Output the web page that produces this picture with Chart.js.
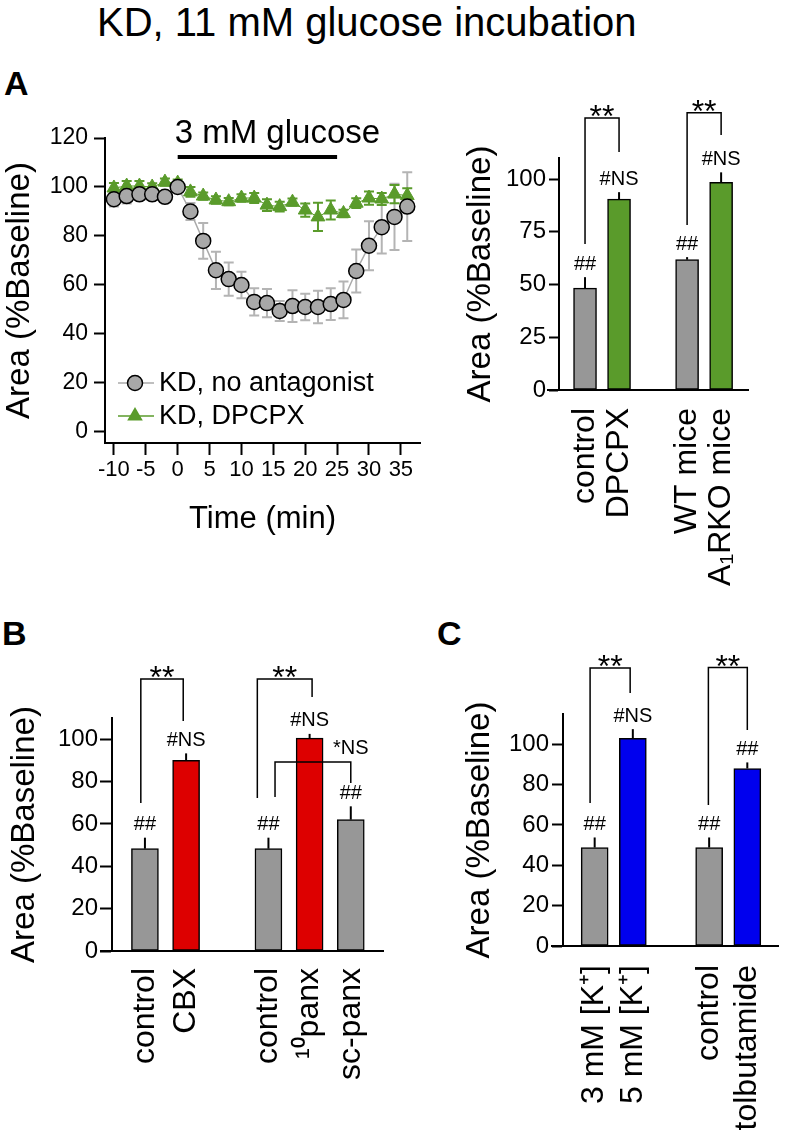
<!DOCTYPE html>
<html>
<head>
<meta charset="utf-8">
<script src="https://cdn.jsdelivr.net/npm/chart.js@4.4.1/dist/chart.umd.min.js"></script>
<style>
  body { margin: 0; width: 797px; height: 1131px; background: #fff; position: relative; overflow: hidden;
         font-family: "Liberation Sans", Arial, Helvetica, sans-serif; color: #000; }
  canvas { position: absolute; }
  .panel { position: absolute; font-weight: bold; font-size: 34px; line-height: 1; }
  #title { position: absolute; left: 97px; top: 2px; font-size: 40px; line-height: 1; white-space: nowrap; }
</style>
</head>
<body>
<div id="title">KD, 11 mM glucose incubation</div>
<div class="panel" style="left:4px;top:66px">A</div>
<div class="panel" style="left:2px;top:616px">B</div>
<div class="panel" style="left:437px;top:616px">C</div>

<canvas id="lineA" width="430" height="450" style="left:0;top:100px"></canvas>
<canvas id="barA" width="367" height="530" style="left:430px;top:85px"></canvas>
<canvas id="barB" width="400" height="481" style="left:0;top:650px"></canvas>
<canvas id="barC" width="397" height="481" style="left:400px;top:650px"></canvas>

<script>
// ---- panel A, time course ----
const timeMin = [-10, -8, -6, -4, -2, 0, 2, 4, 6, 8, 10, 12, 14, 16, 18, 20, 22, 24, 26, 28, 30, 32, 34, 36];
const noAntagonist    = [95, 96.3, 97, 97, 96, 100, 90, 78, 66, 62.4, 60, 53.1, 52.6, 49.4, 51.4, 51, 51, 52.2, 53.9, 65.7, 76, 83.6, 87.8, 92];
const noAntagonistSem = [3, 3, 2, 2, 2, 1, 3.5, 7.3, 7.6, 6.8, 5.4, 5.6, 5.8, 4.1, 6.5, 5.4, 6.6, 6.5, 7.5, 8.8, 10, 10.7, 13.5, 14];
const withDpcpx       = [99.6, 100.4, 100.4, 100, 102, 101.6, 98, 96.3, 94.7, 94, 95.5, 95.5, 92.6, 92, 93.8, 90.6, 87.8, 90.6, 89.2, 93.4, 95.5, 95.1, 97.1, 96.5];
const withDpcpxSem    = [2, 2, 2, 1.5, 1.5, 1.5, 2, 1.5, 1.5, 1.5, 1.5, 2, 2.4, 2, 1.5, 2.7, 5.8, 3.9, 1.5, 2, 2.7, 2.5, 3.7, 3];
const timeTicks = [-10, -5, 0, 5, 10, 15, 20, 25, 30, 35];
const areaTicksLine = [0, 20, 40, 60, 80, 100, 120];
const glucoseWindow = [0, 25];

// ---- panel A, summary bars ----
const labelsA = ['control', 'DPCPX', 'WT mice', 'A\u2081RKO mice'];
const groupsA = [0, 0, 1, 1];
const valuesA = [48.3, 90.5, 61.8, 98.5];
const semA = [5.2, 3.3, 1.2, 4.7];
const marksA = ['##', '#NS', '##', '#NS'];
const areaTicksA = [0, 25, 50, 75, 100];

// ---- panel B ----
const labelsB = ['control', 'CBX', 'control', '\u00B9\u2070panx', 'sc-panx'];
const groupsB = [0, 0, 1, 1, 1];
const valuesB = [48.3, 90, 48.3, 100.5, 62];
const semB = [5.2, 3.3, 5.2, 2, 6.3];
const marksB = ['##', '#NS', '##', '#NS', '##'];
const areaTicksB = [0, 20, 40, 60, 80, 100];

// ---- panel C ----
const labelsC = ['3 mM [K\u207A]', '5 mM [K\u207A]', 'control', 'tolbutamide'];
const groupsC = [0, 0, 1, 1];
const valuesC = [48.8, 103, 48.8, 88];
const semC = [5, 4.5, 5, 3];
const marksC = ['##', '#NS', '##', '##'];
const areaTicksC = [0, 20, 40, 60, 80, 100];

const FONT = '"Liberation Sans", Arial, Helvetica, sans-serif';
Chart.defaults.font.family = FONT;
Chart.defaults.color = '#000';
Chart.defaults.animation = false;

const GREY_BAR = '#979797';
const GREEN = '#5a9b2b';
const RED = '#dd0000';
const BLUE = '#0000ee';

// significance brackets: x in bar slots, y in %Baseline
const bracketsA = [
  { x1: 0, x2: 1, y1: 69.2, top: 129, y2: 112.8, text: '**' },
  { x1: 3, x2: 4, y1: 78.2, top: 131.4, y2: 120.9, text: '**' }
];
const bracketsB = [
  { x1: -0.1, x2: 0.93, y1: 69.9, top: 128.4, y2: 108.6, text: '**' },
  { x1: 2.73, x2: 4.06, y1: 72.2, top: 128.4, y2: 119.9, text: '**' },
  { x1: 3.16, x2: 5, y1: 72.7, top: 89.2, y2: 79.3, text: '*NS', textAt: 5 }
];
const bracketsC = [
  { x1: -0.12, x2: 0.93, y1: 70.9, top: 137.8, y2: 125.4, text: '**' },
  { x1: 2.98, x2: 4, y1: 69.9, top: 138, y2: 107.1, text: '**' }
];

// ---------- time course ----------
const lineErrors = {
  id: 'lineErrors',
  beforeDatasetsDraw(chart) {
    const { ctx, scales: { y } } = chart;
    const sems = [noAntagonistSem, withDpcpxSem];
    const cols = ['#b4b4b4', GREEN];
    chart.data.datasets.forEach((ds, di) => {
      const meta = chart.getDatasetMeta(di);
      ctx.save();
      ctx.strokeStyle = cols[di];
      ctx.lineWidth = 2;
      meta.data.forEach((pt, i) => {
        const v = ds.data[i].y, e = sems[di][i];
        const hi = y.getPixelForValue(v + e), lo = y.getPixelForValue(v - e);
        ctx.beginPath();
        ctx.moveTo(pt.x, hi); ctx.lineTo(pt.x, lo);
        ctx.moveTo(pt.x - 5, hi); ctx.lineTo(pt.x + 5, hi);
        ctx.moveTo(pt.x - 5, lo); ctx.lineTo(pt.x + 5, lo);
        ctx.stroke();
      });
      ctx.restore();
    });
  }
};

const lineExtras = {
  id: 'lineExtras',
  afterDraw(chart) {
    const { ctx, chartArea, scales: { x } } = chart;
    const x0 = x.getPixelForValue(glucoseWindow[0]);
    const x1 = x.getPixelForValue(glucoseWindow[1]);
    ctx.save();
    // glucose bar
    ctx.strokeStyle = '#000';
    ctx.lineWidth = 4;
    ctx.beginPath(); ctx.moveTo(x0, 57); ctx.lineTo(x1, 57); ctx.stroke();
    ctx.fillStyle = '#000';
    ctx.font = '33px ' + FONT;
    ctx.textAlign = 'left';
    ctx.textBaseline = 'alphabetic';
    ctx.fillText('3 mM glucose', x0 - 3, 43);

    // legend
    const lx = chartArea.left + 13, mx = chartArea.left + 30;
    const rows = [chartArea.bottom - 60, chartArea.bottom - 27];
    ctx.font = '27px ' + FONT;
    ctx.textBaseline = 'middle';
    // row 1
    ctx.strokeStyle = '#aaaaaa'; ctx.lineWidth = 1.5;
    ctx.beginPath(); ctx.moveTo(lx, rows[0]); ctx.lineTo(lx + 36, rows[0]); ctx.stroke();
    ctx.beginPath(); ctx.arc(mx, rows[0], 7.5, 0, Math.PI * 2);
    ctx.fillStyle = '#a8a8a8'; ctx.fill();
    ctx.strokeStyle = '#000'; ctx.stroke();
    ctx.fillStyle = '#000';
    ctx.fillText(chart.data.datasets[0].label, lx + 41, rows[0] + 1);
    // row 2
    ctx.strokeStyle = GREEN; ctx.lineWidth = 1.5;
    ctx.beginPath(); ctx.moveTo(lx, rows[1]); ctx.lineTo(lx + 36, rows[1]); ctx.stroke();
    const r = 9;
    ctx.beginPath();
    ctx.moveTo(mx, rows[1] - r);
    ctx.lineTo(mx + 0.866 * r, rows[1] + 0.5 * r);
    ctx.lineTo(mx - 0.866 * r, rows[1] + 0.5 * r);
    ctx.closePath();
    ctx.fillStyle = GREEN; ctx.fill();
    ctx.fillStyle = '#000';
    ctx.fillText(chart.data.datasets[1].label, lx + 41, rows[1] + 1);
    ctx.restore();
  }
};

new Chart(document.getElementById('lineA'), {
  type: 'line',
  data: {
    datasets: [
      {
        label: 'KD, no antagonist',
        data: timeMin.map((t, i) => ({ x: t, y: noAntagonist[i] })),
        borderColor: '#aaaaaa',
        borderWidth: 1.5,
        pointRadius: 7.5,
        pointBackgroundColor: '#a8a8a8',
        pointBorderColor: '#000',
        pointBorderWidth: 1.5,
        tension: 0
      },
      {
        label: 'KD, DPCPX',
        data: timeMin.map((t, i) => ({ x: t, y: withDpcpx[i] })),
        borderColor: GREEN,
        borderWidth: 1,
        pointStyle: 'triangle',
        pointRadius: 8,
        pointBackgroundColor: GREEN,
        pointBorderColor: GREEN,
        pointBorderWidth: 1,
        tension: 0
      }
    ]
  },
  options: {
    responsive: false,
    devicePixelRatio: 1,
    layout: { autoPadding: false, padding: { left: 0, top: 38, right: 10, bottom: 0 } },
    plugins: { legend: { display: false }, tooltip: { enabled: false } },
    scales: {
      x: {
        type: 'linear', min: -11.4, max: 38,
        afterBuildTicks: s => { s.ticks = timeTicks.map(v => ({ value: v })); },
        afterFit: s => { s.height = 107; },
        grid: { drawOnChartArea: false, tickLength: 12, tickWidth: 2, tickColor: '#000' },
        border: { color: '#000', width: 2 },
        ticks: { font: { size: 22 }, padding: 2, maxRotation: 0, autoSkip: false },
        title: { display: true, text: 'Time (min)', font: { size: 31 }, padding: { top: 0, bottom: 12 } }
      },
      y: {
        min: -4.5, max: 120,
        afterBuildTicks: s => { s.ticks = areaTicksLine.map(v => ({ value: v })); },
        afterFit: s => { s.width = 105; },
        grid: { drawOnChartArea: false, tickLength: 11, tickWidth: 2, tickColor: '#000' },
        border: { color: '#000', width: 2 },
        ticks: { font: { size: 23 }, padding: 6 },
        title: { display: true, text: 'Area (%Baseline)', font: { size: 33 }, padding: { top: 0, bottom: 0 } }
      }
    }
  },
  plugins: [lineErrors, lineExtras]
});

// ---------- bar panels ----------
function barDecor(sem, marks, brackets) {
  return {
    id: 'barDecor',
    afterDatasetsDraw(chart) {
      const { ctx, chartArea, scales: { x, y } } = chart;
      const meta = chart.getDatasetMeta(0);
      const data = chart.data.datasets[0].data;
      ctx.save();
      ctx.strokeStyle = '#000';
      ctx.fillStyle = '#000';
      ctx.lineWidth = 2;
      // x axis runs a little past the y axis
      ctx.beginPath();
      ctx.moveTo(chartArea.left - 12, chartArea.bottom);
      ctx.lineTo(chartArea.left, chartArea.bottom);
      ctx.stroke();
      ctx.textAlign = 'center';
      ctx.textBaseline = 'middle';
      ctx.font = '20px ' + FONT;
      meta.data.forEach((bar, i) => {
        const top = y.getPixelForValue(data[i].y + sem[i]);
        ctx.beginPath(); ctx.moveTo(bar.x, bar.y); ctx.lineTo(bar.x, top); ctx.stroke();
        ctx.fillText(marks[i], bar.x, top - 13);
      });
      ctx.lineWidth = 1.5;
      brackets.forEach(b => {
        const xa = x.getPixelForValue(b.x1), xb = x.getPixelForValue(b.x2);
        const yt = y.getPixelForValue(b.top);
        ctx.beginPath();
        ctx.moveTo(xa, y.getPixelForValue(b.y1));
        ctx.lineTo(xa, yt);
        ctx.lineTo(xb, yt);
        ctx.lineTo(xb, y.getPixelForValue(b.y2));
        ctx.stroke();
        if (b.textAt == null) {
          ctx.font = '32px ' + FONT;
          ctx.textBaseline = 'alphabetic';
          ctx.fillText(b.text, (xa + xb) / 2, yt + 9);
        } else {
          ctx.font = '20px ' + FONT;
          ctx.textBaseline = 'middle';
          ctx.fillText(b.text, x.getPixelForValue(b.textAt), yt - 14);
        }
      });
      ctx.restore();
    }
  };
}

function barChart(id, o) {
  const xs = o.labels.map((_, i) => i + o.groups[i]);
  return new Chart(document.getElementById(id), {
    type: 'bar',
    data: {
      datasets: [{
        data: o.values.map((v, i) => ({ x: xs[i], y: v })),
        backgroundColor: o.colors,
        borderColor: '#000',
        borderWidth: 1.5,
        borderSkipped: false,
        barThickness: o.barWidth
      }]
    },
    options: {
      responsive: false,
      devicePixelRatio: 1,
      layout: { autoPadding: false, padding: o.padding },
      plugins: { legend: { display: false }, tooltip: { enabled: false } },
      scales: {
        x: {
          type: 'linear', min: o.xMin, max: o.xMax, offset: false,
          afterBuildTicks: s => { s.ticks = xs.map(v => ({ value: v })); },
          afterFit: s => { s.height = o.xHeight; },
          grid: { display: false, offset: false },
          border: { color: '#000', width: 2 },
          ticks: {
            font: { size: 32 }, padding: o.labelPad, autoSkip: false,
            minRotation: 90, maxRotation: 90,
            callback: (v, i) => o.labels[i]
          }
        },
        y: {
          min: 0, max: o.yMax,
          afterBuildTicks: s => { s.ticks = o.yTicks.map(v => ({ value: v })); },
          afterFit: s => { s.width = o.yWidth; },
          grid: { drawOnChartArea: false, tickLength: o.tickLen, tickWidth: 2, tickColor: '#000' },
          border: { color: '#000', width: 2 },
          ticks: { font: { size: 24 }, padding: o.tickPad },
          title: { display: true, text: 'Area (%Baseline)', font: { size: 33 }, padding: { top: 0, bottom: 0 } }
        }
      }
    },
    plugins: [barDecor(o.sem, o.marks, o.brackets)]
  });
}

barChart('barA', {
  labels: labelsA, groups: groupsA, values: valuesA, sem: semA, marks: marksA, brackets: bracketsA,
  yTicks: areaTicksA, yMax: 110,
  colors: [GREY_BAR, GREEN, GREY_BAR, GREEN], barWidth: 23,
  xMin: -0.765, xMax: 4.79,
  padding: { left: 31, top: 73, right: 49, bottom: 0 },
  yWidth: 98, xHeight: 225, tickLen: 10, tickPad: 3, labelPad: 10
});

barChart('barB', {
  labels: labelsB, groups: groupsB, values: valuesB, sem: semB, marks: marksB, brackets: bracketsB,
  yTicks: areaTicksB, yMax: 110,
  colors: [GREY_BAR, RED, GREY_BAR, RED, GREY_BAR], barWidth: 27,
  xMin: -0.8, xMax: 5.8,
  padding: { left: 5, top: 68, right: 15, bottom: 0 },
  yWidth: 107, xHeight: 180, tickLen: 12, tickPad: 2, labelPad: 9
});

barChart('barC', {
  labels: labelsC, groups: groupsC, values: valuesC, sem: semC, marks: marksC, brackets: bracketsC,
  yTicks: areaTicksC, yMax: 115,
  colors: [GREY_BAR, BLUE, GREY_BAR, BLUE], barWidth: 27,
  xMin: -0.83, xMax: 4.83,
  padding: { left: 60, top: 64, right: 2, bottom: 0 },
  yWidth: 103, xHeight: 185, tickLen: 11, tickPad: 3, labelPad: 11
});
</script>
</body>
</html>
